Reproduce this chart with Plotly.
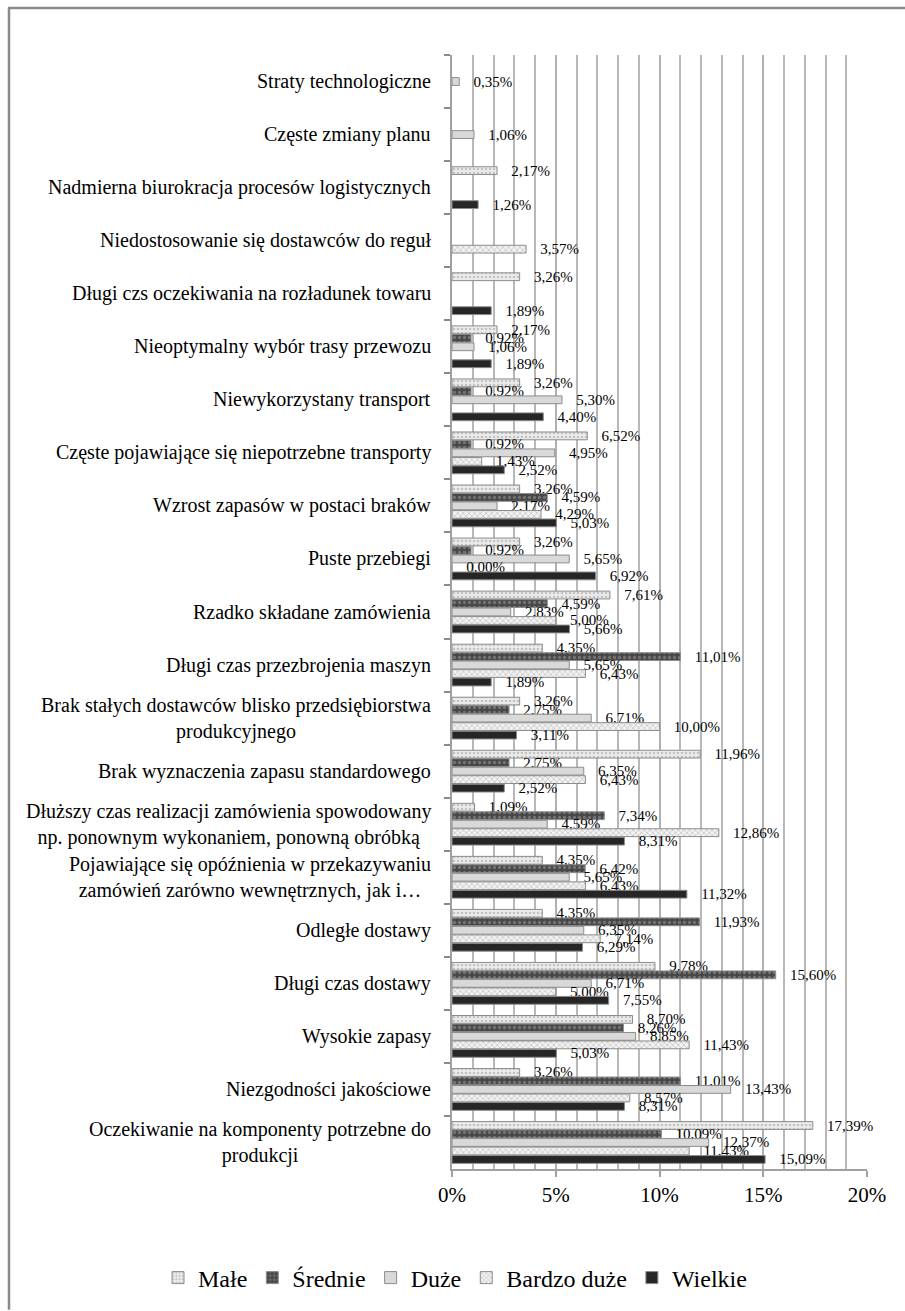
import plotly.graph_objects as go

# Problem categories, top to bottom
categories = [
    "Straty technologiczne",
    "Częste zmiany planu",
    "Nadmierna biurokracja procesów logistycznych",
    "Niedostosowanie się dostawców do reguł",
    "Długi czs oczekiwania na rozładunek towaru",
    "Nieoptymalny wybór trasy przewozu",
    "Niewykorzystany transport",
    "Częste pojawiające się niepotrzebne transporty",
    "Wzrost zapasów w postaci braków",
    "Puste przebiegi",
    "Rzadko składane zamówienia",
    "Długi czas przezbrojenia maszyn",
    "Brak stałych dostawców blisko przedsiębiorstwa<br>produkcyjnego",
    "Brak wyznaczenia zapasu standardowego",
    "Dłuższy czas realizacji zamówienia spowodowany<br>np. ponownym wykonaniem, ponowną obróbką",
    "Pojawiające się opóźnienia w przekazywaniu<br>zamówień zarówno wewnętrznych, jak i…",
    "Odległe dostawy",
    "Długi czas dostawy",
    "Wysokie zapasy",
    "Niezgodności jakościowe",
    "Oczekiwanie na komponenty potrzebne do<br>produkcji",
]

# Share of responses (%) by company size; None = not reported
male = [None, None, 2.17, None, 3.26, 2.17, 3.26, 6.52, 3.26, 3.26, 7.61,
        4.35, 3.26, 11.96, 1.09, 4.35, 4.35, 9.78, 8.70, 3.26, 17.39]
srednie = [None, None, None, None, None, 0.92, 0.92, 0.92, 4.59, 0.92, 4.59,
           11.01, 2.75, 2.75, 7.34, 6.42, 11.93, 15.60, 8.26, 11.01, 10.09]
duze = [0.35, 1.06, None, None, None, 1.06, 5.30, 4.95, 2.17, 5.65, 2.83,
        5.65, 6.71, 6.35, 4.59, 5.65, 6.35, 6.71, 8.85, 13.43, 12.37]
bardzo_duze = [None, None, None, 3.57, None, None, None, 1.43, 4.29, 0.00, 5.00,
               6.43, 10.00, 6.43, 12.86, 6.43, 7.14, 5.00, 11.43, 8.57, 11.43]
wielkie = [None, None, 1.26, None, 1.89, 1.89, 4.40, 2.52, 5.03, 6.92, 5.66,
           1.89, 3.11, 2.52, 8.31, 11.32, 6.29, 7.55, 5.03, 8.31, 15.09]

series_names = ["Małe", "Średnie", "Duże", "Bardzo duże", "Wielkie"]
x_ticks = [0, 5, 10, 15, 20]

FONT = "Liberation Serif"

styles = [
    dict(color="#e4e4e4", pattern=dict(shape=".", fgcolor="#9a9a9a", bgcolor="#ececec", size=4, solidity=0.35)),
    dict(color="#4a4a4a", pattern=dict(shape=".", fgcolor="#9d9d9d", bgcolor="#474747", size=5, solidity=0.35)),
    dict(color="#d9d9d9"),
    dict(color="#f0f0f0", pattern=dict(shape="x", fgcolor="#8a8a8a", bgcolor="#f2f2f2", size=4, solidity=0.3)),
    dict(color="#262626"),
]

label_font = dict(family=FONT, size=15, color="#000000")

fig = go.Figure()
for name, vals, st in zip(series_names, [male, srednie, duze, bardzo_duze, wielkie], styles):
    marker = dict(color=st["color"], line=dict(color="#8c8c8c", width=1))
    if "pattern" in st:
        marker["pattern"] = st["pattern"]
    fig.add_trace(go.Bar(
        name=name,
        y=categories,
        x=vals,
        orientation="h",
        marker=marker,
        texttemplate="\u00a0\u00a0\u00a0%{x:.2f}%",
        textposition="outside",
        textfont=label_font,
        outsidetextfont=label_font,
        constraintext="none",
        cliponaxis=False,
    ))

# Category labels, centred line by line
for cat in categories:
    fig.add_annotation(
        x=-0.046, xref="paper", y=cat, yref="y",
        text=cat, showarrow=False, xanchor="right", yanchor="middle",
        align="center", font=dict(family=FONT, size=20, color="#000000"),
    )

W, H = 905, 1311
ML, MR, MT, MB = 452, 38, 55, 141
pw, ph = W - ML - MR, H - MT - MB


def px_x(px):
    return (px - ML) / pw


def px_y(py):
    return (H - MB - py) / ph


# Outer frame (top and left edges)
frame = dict(color="#8a8a8a", width=2.5)
fig.add_shape(type="line", xref="paper", yref="paper",
              x0=px_x(8), x1=px_x(W), y0=px_y(8), y1=px_y(8), line=frame)
fig.add_shape(type="line", xref="paper", yref="paper",
              x0=px_x(9), x1=px_x(9), y0=px_y(8), y1=px_y(H), line=frame)

fig.update_layout(
    width=W, height=H,
    margin=dict(l=ML, r=MR, t=MT, b=MB),
    paper_bgcolor="#ffffff", plot_bgcolor="#ffffff",
    separators=",.",
    barmode="group", bargap=0.2, bargroupgap=0.08,
    font=dict(family=FONT, color="#000000"),
    showlegend=True,
    legend=dict(orientation="h", xref="paper", yref="paper",
                x=px_x(158), xanchor="left", y=px_y(1278), yanchor="middle",
                font=dict(family=FONT, size=24), itemwidth=30,
                traceorder="normal"),
    uniformtext=dict(mode=False),
)

fig.update_xaxes(
    range=[0, 20], tickvals=x_ticks, ticktext=[f"{v}%" for v in x_ticks],
    tickfont=dict(family=FONT, size=21, color="#000000"),
    showgrid=True, gridcolor="#b0b0b0", gridwidth=2,
    minor=dict(dtick=1, showgrid=True, gridcolor="#b8b8b8", gridwidth=2),
    showline=True, linecolor="#a0a0a0", linewidth=2,
    ticks="outside", ticklen=6, tickcolor="#a0a0a0", tickwidth=2,
    zeroline=False, fixedrange=True,
)
fig.update_yaxes(
    categoryorder="array", categoryarray=categories,
    autorange="reversed", showticklabels=False,
    ticks="outside", tickson="boundaries", ticklen=6,
    tickcolor="#8a8a8a", tickwidth=2,
    showline=True, linecolor="#a0a0a0", linewidth=2,
    showgrid=False, zeroline=False,
)

fig.write_html("out.html")
